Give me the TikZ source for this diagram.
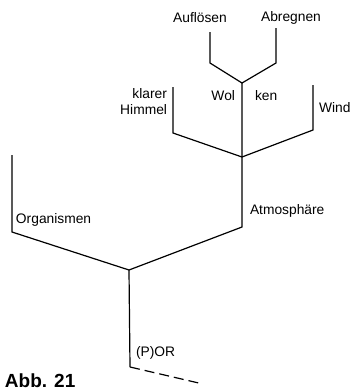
\documentclass[tikz,border=0pt]{standalone}
\usepackage{fontspec}
\setmainfont{Liberation Sans}
\usetikzlibrary{positioning}

\begin{document}
\begin{tikzpicture}
[x=1pt,y=-1pt,
 every node/.style={inner sep=0mm,outer sep=0mm,font=\fontsize{13.8}{16}\selectfont},
 lbl/.style={anchor=west},
 lbr/.style={anchor=east,align=right},
 fig/.style={anchor=base west,font=\fontsize{19}{22}\selectfont\bfseries},
 br/.style={line width=1.2pt,line join=miter},
 tail/.style={line width=1.2pt,dash pattern=on 10pt off 5pt}]
\useasboundingbox (0,0) rectangle (353,392);

% junctions
\coordinate (jRoot) at (129,270);
\coordinate (jSky)  at (242,157);
\coordinate (jWol)  at (242,83);

% branch ends
\coordinate (cOrg)  at (12,232);  \coordinate (tOrg) at (12,155);
\coordinate (cAtm)  at (242,227);
\coordinate (cKla)  at (173,133); \coordinate (tKla) at (173,87);
\coordinate (cWind) at (313,130); \coordinate (tWind) at (313,85);
\coordinate (cAuf)  at (210,63);  \coordinate (tAuf) at (210,32);
\coordinate (cAbr)  at (276,63);  \coordinate (tAbr) at (276,28);
\coordinate (cPor)  at (130,367); \coordinate (tPor) at (203,384);

% labels
\node (nAuf)  at (200,18) {Auflösen};
\node (nAbr)  at (291,18) {Abregnen};
\node[lbr] (nKla) at (167,102) {klarer\\Himmel};
\node[lbr] (nWol) at (235,96) {Wol};
\node[lbl] (nKen) at (255,96) {ken};
\node[lbl] (nWind) at (319,108) {Wind};
\node[lbl] (nAtm) at (250,211) {Atmosphäre};
\node[lbl] (nOrg) at (16,220) {Organismen};
\node[lbl] (nPor) at (136,353) {(P)OR};
\node[fig] (nAbb) at (5,387) {Abb. 21};

% tree
\draw[br] (tOrg) -- (cOrg) -- (jRoot) -- (cAtm) -- (jSky) -- (jWol);
\draw[br] (tKla) -- (cKla) -- (jSky) -- (cWind) -- (tWind);
\draw[br] (tAuf) -- (cAuf) -- (jWol) -- (cAbr) -- (tAbr);
\draw[br] (jRoot) -- (cPor);
\draw[tail] (cPor) -- (tPor);
\end{tikzpicture}
\end{document}
